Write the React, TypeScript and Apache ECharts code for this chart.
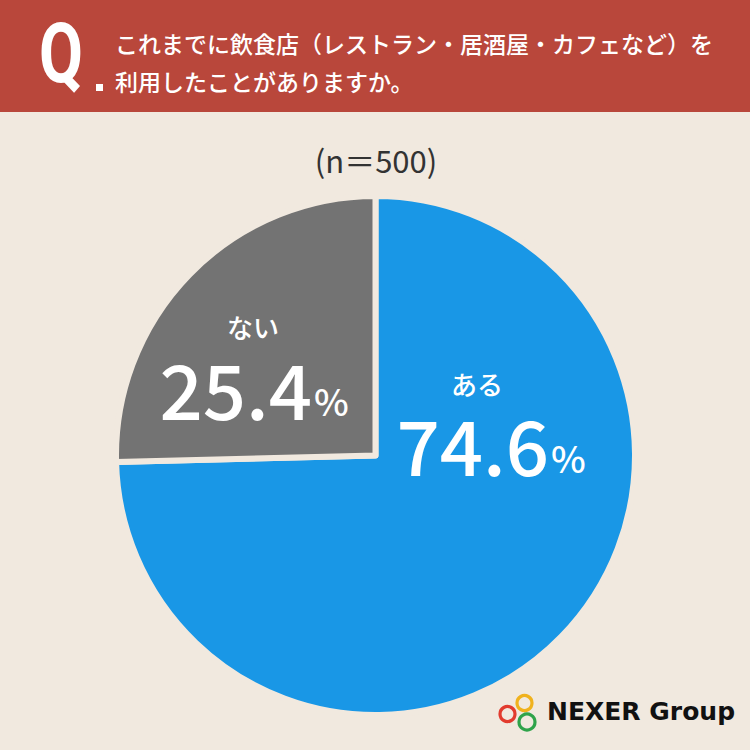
import React, { useEffect, useRef } from "react";
import * as echarts from "echarts";

const categories = ["ある", "ない"];
const values = [74.6, 25.4];
const sampleLabel = "(n＝500)";
const questionLines = [
  "これまでに飲食店（レストラン・居酒屋・カフェなど）を",
  "利用したことがありますか。",
];
const brandName = "NEXER Group";

const BG = "#f1e9df";
const RED = "#b9473b";
const BLUE = "#1997e6";
const GRAY = "#737373";
const JP = '"Noto Sans CJK JP", "Noto Sans", sans-serif';

export default function App() {
  const ref = useRef<HTMLDivElement>(null);
  useEffect(() => {
    document.body.style.margin = "0";
    const chart = echarts.init(ref.current!, null, { renderer: "svg" });
    const colors = [BLUE, GRAY];
    const labelPos = [
      { nx: 477, ny: 383, numRight: 549, numY: 443, pctY: 457 },
      { nx: 253, ny: 326, numRight: 312, numY: 387, pctY: 400 },
    ];
    const labelGraphics: any[] = [];
    categories.forEach((c, i) => {
      const p = labelPos[i];
      labelGraphics.push({
        type: "text",
        z: 100,
        x: p.nx,
        y: p.ny,
        style: {
          text: c,
          fill: "#fff",
          font: `500 26px ${JP}`,
          textAlign: "center",
          textVerticalAlign: "middle",
        },
      });
      labelGraphics.push({
        type: "text",
        z: 100,
        x: p.numRight,
        y: p.numY,
        style: {
          text: values[i].toFixed(1),
          fill: "#fff",
          font: `500 76px ${JP}`,
          textAlign: "right",
          textVerticalAlign: "middle",
        },
      });
      labelGraphics.push({
        type: "text",
        z: 100,
        x: p.numRight + 2,
        y: p.pctY,
        style: {
          text: "%",
          fill: "#fff",
          font: `500 37px ${JP}`,
          textAlign: "left",
          textVerticalAlign: "middle",
        },
      });
    });

    chart.setOption({
      animation: false,
      backgroundColor: BG,
      series: [
        {
          type: "pie",
          center: [375.5, 455.5],
          radius: [0, 259.5],
          startAngle: 90,
          clockwise: true,
          label: { show: false },
          labelLine: { show: false },
          silent: true,
          itemStyle: { borderColor: BG, borderWidth: 6 },
          data: categories.map((c, i) => ({
            name: c,
            value: values[i],
            itemStyle: { color: colors[i] },
          })),
        },
      ],
      graphic: [
        { type: "rect", shape: { x: 0, y: 0, width: 750, height: 112 }, style: { fill: RED } },
        {
          type: "text",
          x: 39,
          y: 53,
          scaleX: 0.76,
          style: {
            text: "Q",
            fill: "#fff",
            font: "700 84px Roboto, sans-serif",
            textAlign: "left",
            textVerticalAlign: "middle",
          },
        },
        { type: "rect", shape: { x: 96, y: 84, width: 7, height: 7 }, style: { fill: "#fff" } },
        ...questionLines.map((t, i) => ({
          type: "text",
          x: 115,
          y: i === 0 ? 43 : 81,
          style: {
            text: t,
            fill: "#fff",
            font: `500 23px ${JP}`,
            textAlign: "left",
            textVerticalAlign: "middle",
          },
        })),
        {
          type: "text",
          x: 376,
          y: 159,
          style: {
            text: sampleLabel,
            fill: "#333",
            font: `400 31px ${JP}`,
            textAlign: "center",
            textVerticalAlign: "middle",
          },
        },
        ...labelGraphics,
        { type: "circle", shape: { cx: 524.5, cy: 703, r: 7.5 }, style: { fill: "none", stroke: "#f0b21d", lineWidth: 3.2 } },
        { type: "circle", shape: { cx: 507.5, cy: 714, r: 7.5 }, style: { fill: "none", stroke: "#e23b2e", lineWidth: 3.2 } },
        { type: "circle", shape: { cx: 527, cy: 722, r: 8 }, style: { fill: "none", stroke: "#2fa34a", lineWidth: 3.2 } },
        {
          type: "text",
          x: 547,
          y: 711,
          style: {
            text: brandName,
            fill: "#111",
            font: '700 25px "DejaVu Sans", sans-serif',
            textAlign: "left",
            textVerticalAlign: "middle",
          },
        },
      ],
    });
    return () => chart.dispose();
  }, []);
  return <div ref={ref} style={{ width: 750, height: 750 }} />;
}
